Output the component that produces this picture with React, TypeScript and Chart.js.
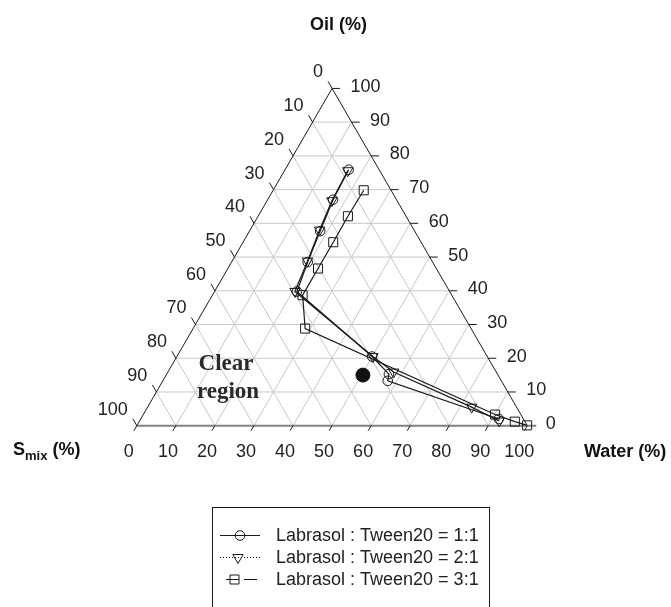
import React, { useEffect, useRef } from "react";
import { Chart, registerables } from "chart.js";

Chart.register(...registerables);

// ---- data (oil %, water %; Smix = 100 - oil - water) ----
const tickValues = [0, 10, 20, 30, 40, 50, 60, 70, 80, 90, 100];

const seriesNames = [
  "Labrasol : Tween20 = 1:1",
  "Labrasol : Tween20 = 2:1",
  "Labrasol : Tween20 = 3:1",
];

const oil11 = [75.9, 67.0, 57.7, 48.5, 39.8, 20.5, 15.3, 13.3, 2.0];
const water11 = [16.3, 16.75, 18.1, 19.5, 21.1, 50.0, 56.9, 57.6, 91.7];

const oil21 = [75.6, 66.7, 58.0, 48.8, 39.8, 20.5, 15.9, 5.5, 1.4];
const water21 = [16.2, 16.6, 17.8, 19.3, 20.6, 50.2, 57.8, 83.0, 92.1];

const oil31 = [69.8, 62.1, 54.4, 46.6, 38.7, 28.8, 3.3, 1.2, 0.1];
const water31 = [23.2, 23.0, 23.1, 23.1, 23.1, 28.7, 90.1, 96.2, 99.9];

const dotOil = [15.0];
const dotWater = [50.4];

const S3 = Math.sqrt(3);
const toXY = (o: number, w: number) => ({ x: w + o / 2, y: (o * S3) / 2 });
const build = (oil: number[], water: number[]) => oil.map((o, i) => toXY(o, water[i]));

const FONT = '"Liberation Sans", Arial, sans-serif';
const INK = "#1a1a1a";

function drawMarker(ctx: CanvasRenderingContext2D, kind: string, x: number, y: number) {
  ctx.beginPath();
  if (kind === "circle") {
    ctx.arc(x, y, 4.8, 0, Math.PI * 2);
  } else if (kind === "tri") {
    const r = 6;
    ctx.moveTo(x, y + r);
    ctx.lineTo(x - r * 0.866, y - r / 2);
    ctx.lineTo(x + r * 0.866, y - r / 2);
    ctx.closePath();
  } else {
    ctx.rect(x - 4.5, y - 4.5, 9, 9);
  }
  ctx.stroke();
}

const ternaryPlugin = {
  id: "ternary",
  beforeDatasetsDraw(chart: any) {
    const ctx: CanvasRenderingContext2D = chart.ctx;
    const xs = chart.scales.x;
    const ys = chart.scales.y;
    const P = (o: number, w: number) => [
      xs.getPixelForValue(w + o / 2),
      ys.getPixelForValue((o * S3) / 2),
    ];
    const seg = (a: number[], b: number[]) => {
      ctx.beginPath();
      ctx.moveTo(a[0], a[1]);
      ctx.lineTo(b[0], b[1]);
      ctx.stroke();
    };
    ctx.save();
    // grid
    ctx.strokeStyle = "#c8c8c8";
    ctx.lineWidth = 1;
    for (const k of tickValues) {
      if (k === 0 || k === 100) continue;
      seg(P(k, 0), P(k, 100 - k));
      seg(P(0, k), P(100 - k, k));
      seg(P(100 - k, 0), P(0, 100 - k));
    }
    // edges
    ctx.strokeStyle = INK;
    ctx.lineWidth = 1;
    seg(P(0, 0), P(100, 0));
    seg(P(100, 0), P(0, 100));
    ctx.strokeStyle = "#808080";
    ctx.lineWidth = 2;
    const bl = P(0, 0);
    const br = P(0, 100);
    seg(bl, [br[0] + 9, br[1]]);

    // ticks + labels
    ctx.strokeStyle = INK;
    ctx.lineWidth = 1;
    ctx.fillStyle = "#222";
    ctx.font = `18px ${FONT}`;
    for (const k of tickValues) {
      // Oil (right edge)
      const r = P(k, 100 - k);
      if (k !== 0) seg(r, [r[0] + 8, r[1]]);
      ctx.textAlign = "left";
      ctx.textBaseline = "middle";
      ctx.fillText(String(k), r[0] + 18.5, r[1] - 1.5);
      // Smix (left edge)
      const l = P(100 - k, 0);
      seg(l, [l[0] - 4, l[1] - 7]);
      ctx.textAlign = "right";
      ctx.fillText(String(k), l[0] - 9, l[1] - 16);
      // Water (bottom edge)
      const b = P(0, k);
      seg(b, [b[0] - 3, b[1] + 5]);
      ctx.textAlign = "center";
      ctx.fillText(String(k), b[0] - 8, 452);
    }
    ctx.restore();
  },
  afterDraw(chart: any) {
    const ctx: CanvasRenderingContext2D = chart.ctx;
    ctx.save();
    ctx.fillStyle = "#111";
    ctx.textBaseline = "middle";
    // axis titles
    ctx.font = `bold 18px ${FONT}`;
    ctx.textAlign = "center";
    ctx.fillText("Oil (%)", 338.5, 25);
    ctx.textAlign = "left";
    ctx.fillText("Water (%)", 584, 452);
    ctx.fillText("S", 13, 450);
    const sW = ctx.measureText("S").width;
    ctx.font = `bold 13px ${FONT}`;
    ctx.fillText("mix", 13 + sW, 456);
    const mW = ctx.measureText("mix").width;
    ctx.font = `bold 18px ${FONT}`;
    ctx.fillText(" (%)", 13 + sW + mW, 450);

    // Clear region
    ctx.font = `bold 23px "Liberation Serif", "Times New Roman", serif`;
    ctx.fillStyle = "#2a2a2a";
    ctx.textAlign = "center";
    ctx.fillText("Clear", 226, 364);
    ctx.fillText("region", 228, 392);

    // legend
    ctx.strokeStyle = INK;
    ctx.lineWidth = 1;
    ctx.strokeRect(212.5, 507.5, 277, 140);
    const rows = [535, 557, 579];
    ctx.font = `18px ${FONT}`;
    ctx.fillStyle = "#222";
    ctx.textAlign = "left";
    rows.forEach((y, i) => {
      ctx.lineWidth = 1;
      ctx.strokeStyle = INK;
      ctx.beginPath();
      if (i === 1) ctx.setLineDash([1, 2]);
      else if (i === 2) ctx.setLineDash([13, 5]);
      else ctx.setLineDash([]);
      ctx.moveTo(i === 2 ? 226 : 220, y + 0.5);
      ctx.lineTo(260, y + 0.5);
      ctx.stroke();
      ctx.setLineDash([]);
      drawMarker(ctx, i === 0 ? "circle" : i === 1 ? "tri" : "rect", i === 0 ? 240 : i === 1 ? 238 : 234.5, y + 0.5);
      ctx.fillText(seriesNames[i], 276, y + 1);
    });
    ctx.restore();
  },
};

export default function App() {
  const ref = useRef<HTMLCanvasElement | null>(null);
  useEffect(() => {
    if (!ref.current) return;
    const common = {
      showLine: true,
      borderColor: INK,
      borderWidth: 1.2,
      pointBorderColor: INK,
      pointBorderWidth: 1,
      pointBackgroundColor: "rgba(0,0,0,0)",
      fill: false,
      clip: false as any,
    };
    const chart = new Chart(ref.current, {
      type: "scatter",
      data: {
        datasets: [
          {
            ...common,
            label: seriesNames[0],
            data: build(oil11, water11),
            pointStyle: "circle",
            pointRadius: 4.8,
          },
          {
            ...common,
            label: seriesNames[1],
            data: build(oil21, water21),
            pointStyle: "triangle",
            rotation: 180,
            pointRotation: 180,
            pointRadius: 6,
          } as any,
          {
            ...common,
            label: seriesNames[2],
            data: build(oil31, water31),
            pointStyle: "rect",
            pointRadius: 6.4,
          },
          {
            label: "dot",
            data: build(dotOil, dotWater),
            showLine: false,
            pointStyle: "circle",
            pointRadius: 7,
            pointBackgroundColor: "#111",
            pointBorderColor: "#111",
          },
        ],
      },
      options: {
        animation: false,
        responsive: false,
        layout: { padding: 0 },
        plugins: { legend: { display: false }, tooltip: { enabled: false }, title: { display: false } },
        scales: {
          x: { type: "linear", display: false, min: -33, max: 134.75 },
          y: { type: "linear", display: false, min: -44.5, max: 107.25 },
        },
        events: [],
      },
      plugins: [ternaryPlugin],
    } as any);
    return () => chart.destroy();
  }, []);
  return (
    <div style={{ position: "fixed", left: 0, top: 0, width: 671, height: 607, background: "#fff" }}>
      <canvas ref={ref} width={671} height={607} style={{ display: "block" }} />
    </div>
  );
}
